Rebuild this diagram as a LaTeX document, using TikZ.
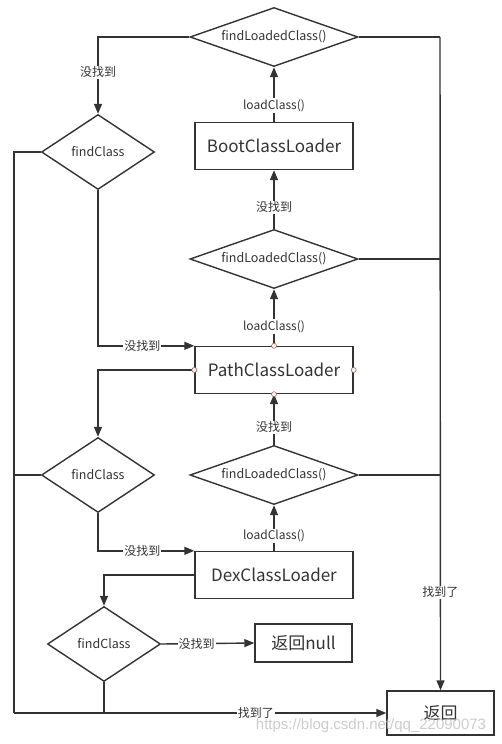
\documentclass[tikz,border=0pt]{standalone}
\usepackage{fontspec}
\setmainfont{Noto Sans CJK SC}
\newfontfamily\wmfont{Liberation Sans}
\usetikzlibrary{shapes.geometric}
\usetikzlibrary{arrows.meta}
\definecolor{linegray}{HTML}{333333}
\definecolor{handlered}{HTML}{B85450}
\tikzset{
      box/.style={draw=linegray, line width=1.4pt, text=linegray,
        minimum width=158pt, minimum height=47pt,
        font=\fontsize{17}{17}\selectfont},
      test/.style={diamond, draw=linegray, line width=1.4pt, text=linegray,
        inner sep=0pt, font=\fontsize{12.5}{12.5}\selectfont},
      loadtest/.style={test, aspect=2.85, minimum width=168pt, minimum height=59pt},
      clstest/.style={test, aspect=1.5, minimum width=113pt, minimum height=75pt},
      conn/.style={draw=linegray, line width=1.4pt},
      flow/.style={conn, -{Triangle[length=10pt,width=8pt]}},
      lab/.style={fill=white, inner sep=1pt, text=linegray,
        font=\fontsize{12}{12}\selectfont},
      hdl/.style={circle, draw=handlered, fill=white, inner sep=0pt,
        minimum size=5pt, line width=0.6pt}}

\begin{document}
\begin{tikzpicture}[x=1pt, y=-1pt]
          \useasboundingbox (0,0) rectangle (502,744);

          \node[loadtest] (find1) at (274,37)  {findLoadedClass()};
          \node[box]      (boot)  at (274,146) {BootClassLoader};
          \node[loadtest] (find2) at (274,259) {findLoadedClass()};
          \node[box]      (path)  at (274,370) {PathClassLoader};
          \node[loadtest] (find3) at (274,475) {findLoadedClass()};
          \node[box]      (dex)   at (274,575) {DexClassLoader};

          \node[clstest] (cls1) at (98,152)  {findClass};
          \node[clstest] (cls2) at (98,475)  {findClass};
          \node[clstest] (cls3) at (104,644) {findClass};

          \node[box, minimum width=97pt, minimum height=38pt] (null) at (303.5,643) {返回null};
          \node[box, minimum width=107pt, minimum height=44pt] (ret) at (440.5,713) {返回};

          \coordinate (lft) at (14,713);
          \coordinate (rgt) at (440,37);

          % up the chain of loaders
          \draw[flow] (boot.north) -- node[lab, pos=0.3]{loadClass()} (find1.south);
          \draw[flow] (find2.north) -- node[lab, pos=0.37]{没找到} (boot.south);
          \draw[flow] (path.north) -- node[lab, pos=0.34]{loadClass()} (find2.south);
          \draw[flow] (find3.north) -- node[lab, pos=0.35]{没找到} (path.south);
          \draw[flow] (dex.north) -- node[lab, pos=0.32]{loadClass()} (find3.south);

          % down again through findClass
          \draw[flow] (find1.west) -| node[lab, pos=0.73]{没找到} (cls1.north);
          \draw[flow] (cls1.south) |- node[lab, pos=0.73]{没找到} (path.north west);
          \draw[flow] (path.west) -| (cls2.north);
          \draw[flow] (cls2.south) |- node[lab, pos=0.73]{没找到} (dex.north west);
          \draw[flow] (dex.west) -| (cls3.north);
          \draw[flow] (cls3.east) -- node[lab, pos=0.38]{没找到} (null.west);

          % found
          \draw[conn] (cls1.west) -| (lft);
          \draw[conn] (cls2.west) -- (cls2.west -| lft);
          \draw[conn] (cls3.south) -- (cls3.south |- lft);
          \draw[flow] (lft) -- node[lab, pos=0.65]{找到了} (ret.west);
          \draw[conn] (find1.east) -- (rgt);
          \draw[conn] (find2.east) -- (find2.east -| rgt);
          \draw[conn] (find3.east) -- (find3.east -| rgt);
          \draw[flow] (rgt) -- node[lab, pos=0.85]{找到了} (ret.north);

          \foreach \a in {north,south,east,west}
            \node[hdl] (h\a) at (path.\a) {};

          \node[text=black!25, text opacity=0.8, font=\wmfont\fontsize{15}{15}\selectfont]
            (wm) at (371,726) {https://blog.csdn.net/qq\_22090073};
\end{tikzpicture}
\end{document}
